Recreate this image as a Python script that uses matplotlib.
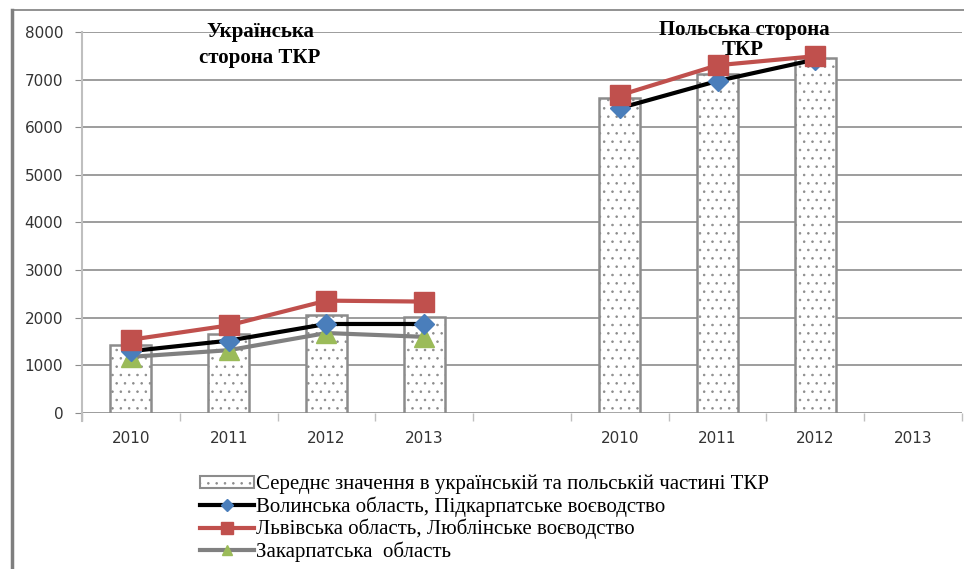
import numpy as np
import matplotlib
matplotlib.use('Agg')
import matplotlib.pyplot as plt
from matplotlib.patches import Rectangle
from matplotlib.lines import Line2D
import matplotlib as mpl

nan = np.nan

# categories: Ukrainian side, gap, Polish side
years = ['2010', '2011', '2012', '2013', '', '2010', '2011', '2012', '2013']

avg_values = [1420, 1650, 2050, 2020, nan, 6610, 7120, 7460, nan]
volyn_pidkarpattia = [1300, 1520, 1870, 1870, nan, 6400, 6970, 7420, nan]
lviv_lublin = [1540, 1840, 2360, 2340, nan, 6670, 7300, 7490, nan]
zakarpattia = [1180, 1320, 1680, 1600, nan, nan, nan, nan, nan]

labels = ['Середнє значення в українській та польській частині ТКР',
          'Волинська область, Підкарпатське воєводство',
          'Львівська область, Люблінське воєводство',
          'Закарпатська  область']

mpl.rcParams['hatch.color'] = '#404040'
mpl.rcParams['hatch.linewidth'] = 0.6

fig = plt.figure(figsize=(9.64, 5.69), dpi=100)
ax = fig.add_axes([0.085, 0.274, 0.913, 0.67])

x = np.arange(len(years))

ax.bar(x, avg_values, width=0.42, color='white', edgecolor='#8c8c8c',
       linewidth=1.8, hatch='..', zorder=2)

ax.plot(x, volyn_pidkarpattia, color='black', lw=3, marker='D', ms=10,
        mfc='#4a7ebb', mec='#4a7ebb', zorder=4)
ax.plot(x, lviv_lublin, color='#c0504d', lw=3, marker='s', ms=14,
        mfc='#c0504d', mec='#c0504d', zorder=5)
ax.plot(x, zakarpattia, color='#808080', lw=3, marker='^', ms=14,
        mfc='#9bbb59', mec='#9bbb59', zorder=3)

ax.set_xlim(-0.5, 8.5)
ax.set_ylim(0, 8000)
ax.set_yticks(range(0, 8001, 1000))
ax.yaxis.grid(True, color='#8c8c8c', lw=1.2)
ax.set_axisbelow(True)

for s in ['top', 'right', 'bottom']:
    ax.spines[s].set_visible(False)
ax.spines['left'].set_color('#bfbfbf')
ax.spines['left'].set_linewidth(1.5)
ax.spines['left'].set_bounds(-170, 8000)

ax.set_xticks(x)
ax.set_xticklabels(years, fontsize=11, family='DejaVu Sans', color='#333333')
ax.set_xticks(np.arange(-0.5, 9, 1), minor=True)
ax.tick_params(axis='x', which='major', length=0, pad=13)
ax.tick_params(axis='x', which='minor', length=6, color='#bfbfbf', width=1)
ax.tick_params(axis='y', length=5, color='#8c8c8c', labelsize=11,
               labelcolor='#333333', pad=8.5)
for t in ax.get_yticklabels():
    t.set_family('DejaVu Sans')

title_kw = dict(ha='center', va='center', fontsize=15, fontweight='bold',
                family='Liberation Serif', zorder=6, clip_on=False)
ax.text(1.32, 7990, 'Українська', **title_kw)
ax.text(1.32, 7450, 'сторона ТКР', **title_kw)
ax.text(6.27, 8040, 'Польська сторона', **title_kw)
ax.text(6.26, 7610, 'ТКР', **title_kw)

handles = [
    Rectangle((0, 0), 1, 1, facecolor='white', edgecolor='#8c8c8c',
              linewidth=1.5, hatch='..'),
    Line2D([], [], color='black', lw=3, marker='D', ms=6,
           mfc='#4a7ebb', mec='#4a7ebb'),
    Line2D([], [], color='#c0504d', lw=3, marker='s', ms=8,
           mfc='#c0504d', mec='#c0504d'),
    Line2D([], [], color='#808080', lw=3, marker='^', ms=7,
           mfc='#9bbb59', mec='#9bbb59'),
]
fig.legend(handles, labels, loc='upper left', bbox_to_anchor=(0.2075, 0.166),
           frameon=False, prop={'family': 'Liberation Serif', 'size': 15},
           handlelength=2.6, handleheight=0.5, handletextpad=0.1,
           labelspacing=0.1, borderpad=0, borderaxespad=0)

# chart frame on the left and top
fig.add_artist(Line2D([0.0125, 0.0125], [0.0, 0.982], color='#7f7f7f',
                      lw=2.5, transform=fig.transFigure))
fig.add_artist(Line2D([0.0125, 1.0], [0.982, 0.982], color='#7f7f7f',
                      lw=1.2, transform=fig.transFigure))

fig.savefig('out.png', dpi=100)
